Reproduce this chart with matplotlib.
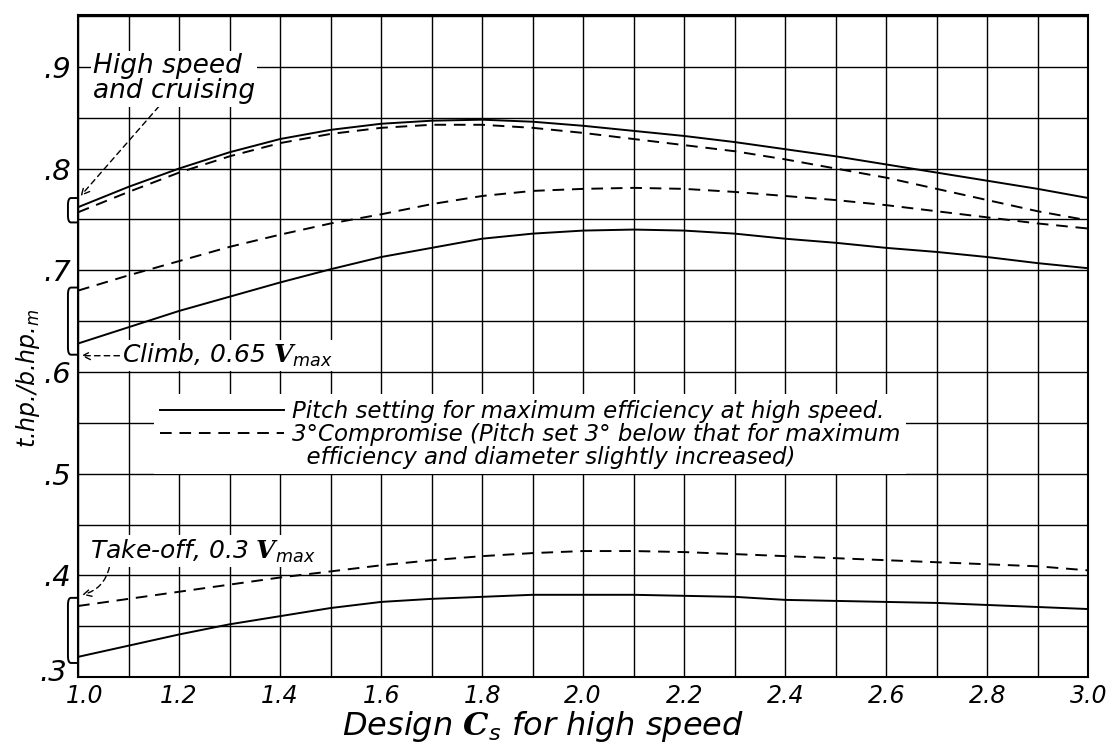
import numpy as np
import matplotlib
matplotlib.use("Agg")
import matplotlib.pyplot as plt
from matplotlib.lines import Line2D
from matplotlib.path import Path
from matplotlib.patches import PathPatch
from matplotlib.transforms import ScaledTranslation

# design C_s for high speed
cs = [1.0, 1.1, 1.2, 1.3, 1.4, 1.5, 1.6, 1.7, 1.8, 1.9, 2.0,
      2.1, 2.2, 2.3, 2.4, 2.5, 2.6, 2.7, 2.8, 2.9, 3.0]

# t.hp./b.hp.; "max" = pitch for max efficiency, "comp" = 3 deg compromise
hs_max = [0.762, 0.782, 0.800, 0.816, 0.829, 0.838, 0.844, 0.847, 0.848, 0.846, 0.842,
          0.837, 0.832, 0.826, 0.819, 0.812, 0.804, 0.796, 0.788, 0.780, 0.771]
hs_comp = [0.757, 0.777, 0.796, 0.812, 0.825, 0.834, 0.840, 0.843, 0.843, 0.840, 0.835,
           0.829, 0.823, 0.817, 0.809, 0.800, 0.791, 0.780, 0.769, 0.758, 0.749]
climb_max = [0.628, 0.644, 0.660, 0.674, 0.688, 0.701, 0.713, 0.722, 0.731, 0.736, 0.739,
             0.740, 0.739, 0.736, 0.731, 0.727, 0.722, 0.718, 0.713, 0.707, 0.702]
climb_comp = [0.680, 0.695, 0.709, 0.723, 0.735, 0.746, 0.755, 0.765, 0.773, 0.778, 0.780,
              0.781, 0.780, 0.777, 0.773, 0.769, 0.764, 0.758, 0.752, 0.746, 0.741]
takeoff_max = [0.320, 0.331, 0.342, 0.352, 0.360, 0.368, 0.374, 0.377, 0.379, 0.381, 0.381,
               0.381, 0.380, 0.379, 0.376, 0.375, 0.374, 0.373, 0.371, 0.369, 0.367]
takeoff_comp = [0.370, 0.377, 0.384, 0.391, 0.398, 0.404, 0.410, 0.415, 0.419, 0.422, 0.424,
                0.424, 0.423, 0.421, 0.419, 0.417, 0.415, 0.413, 0.411, 0.409, 0.405]

x_ticks = [1.0, 1.2, 1.4, 1.6, 1.8, 2.0, 2.2, 2.4, 2.6, 2.8, 3.0]
x_labels = ["1.0", "1.2", "1.4", "1.6", "1.8", "2.0", "2.2", "2.4", "2.6", "2.8", "3.0"]
y_ticks = [0.3, 0.4, 0.5, 0.6, 0.7, 0.8, 0.9]
y_labels = [".3", ".4", ".5", ".6", ".7", ".8", ".9"]

# bracket spans at the left edge (low, high)
brackets = [(0.747, 0.771), (0.617, 0.683), (0.314, 0.378)]

plt.rcParams["font.family"] = ["DejaVu Sans"]
plt.rcParams["font.style"] = "italic"
plt.rcParams["mathtext.fontset"] = "custom"
plt.rcParams["mathtext.rm"] = "DejaVu Sans:italic"
plt.rcParams["mathtext.it"] = "DejaVu Sans:italic"
plt.rcParams["mathtext.bf"] = "DejaVu Serif:bold"

fig = plt.figure(figsize=(11.15, 7.45), dpi=100)
ax = fig.add_axes([0.070, 0.091, 0.906, 0.889])

dash = (0, (6, 4))
lw = 1.4
ax.plot(cs, hs_max, color="black", lw=lw)
ax.plot(cs, hs_comp, color="black", lw=lw, linestyle=dash)
l_max, = ax.plot(cs, climb_max, color="black", lw=lw)
l_comp, = ax.plot(cs, climb_comp, color="black", lw=lw, linestyle=dash)
ax.plot(cs, takeoff_max, color="black", lw=lw)
ax.plot(cs, takeoff_comp, color="black", lw=lw, linestyle=dash)

ax.set_xlim(1.0, 3.0)
ax.set_ylim(0.3, 0.951)
ax.set_xticks(x_ticks)
ax.set_xticklabels(x_labels, fontsize=17, style="italic")
ax.set_xticks(np.arange(1.0, 3.01, 0.1), minor=True)
ax.set_yticks(y_ticks)
ax.set_yticklabels(y_labels, fontsize=21, style="italic")
ax.set_yticks(np.arange(0.3, 0.951, 0.05), minor=True)
ax.tick_params(which="both", length=0)
ax.tick_params(axis="x", pad=5)
ax.tick_params(axis="y", pad=5)
ax.grid(which="both", color="black", lw=1.0)
ax.set_axisbelow(True)
for s in ax.spines.values():
    s.set_linewidth(1.5)

# nudge the corner labels apart like the original lettering
lab = ax.get_yticklabels()[0]
lab.set_transform(lab.get_transform() + ScaledTranslation(-3 / 72, 5 / 72, fig.dpi_scale_trans))
lab = ax.get_xticklabels()[0]
lab.set_transform(lab.get_transform() + ScaledTranslation(5 / 72, 0, fig.dpi_scale_trans))

ax.set_xlabel(r"Design $\mathbf{C}_s$ for high speed", fontsize=23)
ax.xaxis.set_label_coords(0.46, -0.048)
ax.set_ylabel(r"t.hp./b.hp.$_m$", fontsize=17)
ax.yaxis.set_label_coords(-0.036, 0.452)

# brackets grouping the curve starts
for lo, hi in brackets:
    verts = [(1.0, hi), (0.986, hi), (0.980, hi), (0.980, hi - 0.007),
             (0.980, lo + 0.007), (0.980, lo), (0.986, lo), (1.0, lo)]
    codes = [Path.MOVETO, Path.LINETO, Path.CURVE3, Path.CURVE3,
             Path.LINETO, Path.CURVE3, Path.CURVE3, Path.LINETO]
    ax.add_patch(PathPatch(Path(verts, codes), fill=False, lw=1.4,
                           edgecolor="black", clip_on=False, zorder=4))

box = dict(facecolor="white", edgecolor="none", pad=1.5)
ax.text(1.03, 0.888, "High speed\nand cruising", fontsize=19, ha="left",
        va="center", linespacing=0.95, bbox=box, zorder=4)
ax.text(1.087, 0.616, r"Climb, 0.65 $\mathbf{V}_{max}$", fontsize=18,
        ha="left", va="center", bbox=box, zorder=4)
ax.text(1.024, 0.424, r"Take-off, 0.3 $\mathbf{V}_{max}$", fontsize=18,
        ha="left", va="center", bbox=box, zorder=4)

arrow = dict(arrowstyle="->", color="black", lw=1.0, linestyle=(0, (4, 3)),
             shrinkA=0, shrinkB=0, mutation_scale=14)
ax.annotate("", xy=(1.005, 0.773), xytext=(1.16, 0.861), arrowprops=arrow)
ax.annotate("", xy=(1.006, 0.616), xytext=(1.082, 0.616), arrowprops=arrow)
ax.annotate("", xy=(1.008, 0.381), xytext=(1.062, 0.408),
            arrowprops=dict(arrow, connectionstyle="arc3,rad=-0.3"))

blank = Line2D([], [], color="none")
leg = ax.legend([l_max, l_comp, blank],
                ["Pitch setting for maximum efficiency at high speed.",
                 "3°Compromise (Pitch set 3° below that for maximum",
                 "  efficiency and diameter slightly increased)"],
                loc="upper left", bbox_to_anchor=(0.064, 0.445), fontsize=16.5,
                handlelength=5.4, handletextpad=0.35, labelspacing=0.0,
                borderpad=0.25, frameon=True, fancybox=False)
leg.get_frame().set_facecolor("white")
leg.get_frame().set_edgecolor("none")
leg.get_frame().set_alpha(1.0)

fig.savefig("out.png", dpi=100)
